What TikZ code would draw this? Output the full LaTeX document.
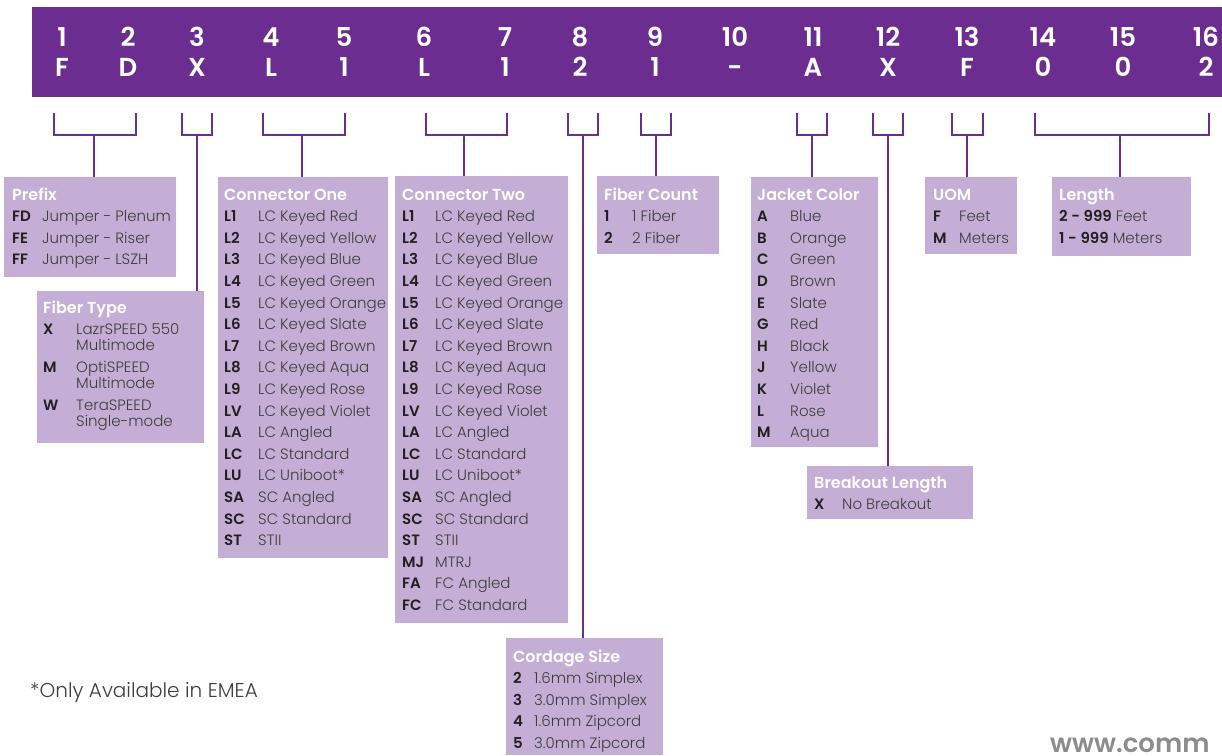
\documentclass[tikz,border=0pt]{standalone}
\usepackage{fontspec}
\setmainfont{Poppins}[UprightFont=* Light, BoldFont=* SemiBold]
\usepackage{array}
\usepackage{xcolor}

\definecolor{barpurple}{HTML}{6B2D90}
\definecolor{boxlav}{HTML}{C4AED5}
\definecolor{codecol}{HTML}{231F20}
\definecolor{desccol}{HTML}{3D3D3D}
\definecolor{webgray}{HTML}{8C8C8C}

% code / description table inside a box
\newenvironment{codetab}[1]{\begin{tabular}[t]{@{}>{\bfseries\color{codecol}}w{l}{#1}@{}>{\color{desccol}}l@{}}}{\end{tabular}}
\newcommand{\hd}[1]{\multicolumn{2}{@{}l@{}}{\color{white}\bfseries\fontsize{16}{21.6}\selectfont #1}}
\newcommand{\twoline}[2]{\parbox[t]{130pt}{\fontsize{15}{16}\selectfont #1\\#2\rule[-7pt]{0pt}{0pt}}}

\begin{document}
\begin{tikzpicture}[x=1pt, y=-1pt,
    box/.style={fill=boxlav, inner sep=0, anchor=north west},
    list/.style={anchor=base west, inner sep=0, font=\fontsize{15}{21.6}\selectfont},
    digit/.style={text=white, align=center, font=\fontsize{26}{30}\selectfont\bfseries},
    bracket/.style={draw=barpurple, line width=2.6pt}]
    \useasboundingbox (0,0) rectangle (1222,755);

    % part number bar
    \node (bar) [box, fill=barpurple, minimum width=1190, minimum height=90] at (32,7) {};
    \node (p1) [digit] at (62,52) {1\\F};
    \node (p2) [digit] at (128,52) {2\\D};
    \node (p3) [digit] at (197,52) {3\\X};
    \node (p4) [digit] at (271,52) {4\\L};
    \node (p5) [digit] at (344,52) {5\\1};
    \node (p6) [digit] at (424,52) {6\\L};
    \node (p7) [digit] at (505,52) {7\\1};
    \node (p8) [digit] at (580,52) {8\\2};
    \node (p9) [digit] at (655,52) {9\\1};
    \node (p10) [digit] at (735,52) {10\\-};
    \node (p11) [digit] at (813,52) {11\\A};
    \node (p12) [digit] at (888,52) {12\\X};
    \node (p13) [digit] at (967,52) {13\\F};
    \node (p14) [digit] at (1043,52) {14\\0};
    \node (p15) [digit] at (1123,52) {15\\0};
    \node (p16) [digit] at (1206,52) {16\\2};

    % boxes
    \node (prefix) [box, minimum width=172, minimum height=100] at (4,177) {};
    \node (fibertype) [box, minimum width=167, minimum height=152] at (37,291) {};
    \node (connone) [box, minimum width=170, minimum height=381] at (218,177) {};
    \node (conntwo) [box, minimum width=173, minimum height=447] at (395,176) {};
    \node (cordage) [box, minimum width=157, minimum height=117] at (506,638) {};
    \node (fibercount) [box, minimum width=122, minimum height=78] at (597,176) {};
    \node (jacket) [box, minimum width=127, minimum height=270] at (751,177) {};
    \node (breakout) [box, minimum width=166, minimum height=53] at (807,466) {};
    \node (uom) [box, minimum width=92, minimum height=77] at (925,177) {};
    \node (length) [box, minimum width=139, minimum height=79] at (1052,177) {};

    \node (prefixlist) [list] at ([xshift=8, yshift=-23]prefix.north west) {\begin{codetab}{30pt}
        \hd{Prefix}\\
        FD & Jumper - Plenum\\
        FE & Jumper - Riser\\
        FF & Jumper - LSZH
    \end{codetab}};
    \node (fibertypelist) [list] at ([xshift=6, yshift=-22]fibertype.north west) {\begin{codetab}{33pt}
        \hd{Fiber Type}\\
        X & \twoline{LazrSPEED 550}{Multimode}\\
        M & \twoline{OptiSPEED}{Multimode}\\
        W & \twoline{TeraSPEED}{Single-mode}
    \end{codetab}};
    \node (connonelist) [list] at ([xshift=6, yshift=-23]connone.north west) {\begin{codetab}{34pt}
        \hd{Connector One}\\
        L1 & LC Keyed Red\\
        L2 & LC Keyed Yellow\\
        L3 & LC Keyed Blue\\
        L4 & LC Keyed Green\\
        L5 & LC Keyed Orange\\
        L6 & LC Keyed Slate\\
        L7 & LC Keyed Brown\\
        L8 & LC Keyed Aqua\\
        L9 & LC Keyed Rose\\
        LV & LC Keyed Violet\\
        LA & LC Angled\\
        LC & LC Standard\\
        LU & LC Uniboot*\\
        SA & SC Angled\\
        SC & SC Standard\\
        ST & STII
    \end{codetab}};
    \node (conntwolist) [list] at ([xshift=7, yshift=-24]conntwo.north west) {\begin{codetab}{33pt}
        \hd{Connector Two}\\
        L1 & LC Keyed Red\\
        L2 & LC Keyed Yellow\\
        L3 & LC Keyed Blue\\
        L4 & LC Keyed Green\\
        L5 & LC Keyed Orange\\
        L6 & LC Keyed Slate\\
        L7 & LC Keyed Brown\\
        L8 & LC Keyed Aqua\\
        L9 & LC Keyed Rose\\
        LV & LC Keyed Violet\\
        LA & LC Angled\\
        LC & LC Standard\\
        LU & LC Uniboot*\\
        SA & SC Angled\\
        SC & SC Standard\\
        ST & STII\\
        MJ & MTRJ\\
        FA & FC Angled\\
        FC & FC Standard
    \end{codetab}};
    \node (cordagelist) [list] at ([xshift=7, yshift=-24]cordage.north west) {\begin{codetab}{21pt}
        \hd{Cordage Size}\\
        2 & 1.6mm Simplex\\
        3 & 3.0mm Simplex\\
        4 & 1.6mm Zipcord\\
        5 & 3.0mm Zipcord
    \end{codetab}};
    \node (fibercountlist) [list] at ([xshift=7, yshift=-24]fibercount.north west) {\begin{codetab}{28pt}
        \hd{Fiber Count}\\
        1 & 1 Fiber\\
        2 & 2 Fiber
    \end{codetab}};
    \node (jacketlist) [list] at ([xshift=6, yshift=-23]jacket.north west) {\begin{codetab}{33pt}
        \hd{Jacket Color}\\
        A & Blue\\
        B & Orange\\
        C & Green\\
        D & Brown\\
        E & Slate\\
        G & Red\\
        H & Black\\
        J & Yellow\\
        K & Violet\\
        L & Rose\\
        M & Aqua
    \end{codetab}};
    \node (breakoutlist) [list] at ([xshift=7, yshift=-22]breakout.north west) {\begin{codetab}{28pt}
        \hd{Breakout Length}\\
        X & No Breakout
    \end{codetab}};
    \node (uomlist) [list] at ([xshift=8, yshift=-23]uom.north west) {\begin{codetab}{26pt}
        \hd{UOM}\\
        F & Feet\\
        M & Meters
    \end{codetab}};
    \node (lengthlist) [list] at ([xshift=7, yshift=-23]length.north west) {\begin{tabular}[t]{@{}>{\color{desccol}}l@{}}
        {\color{white}\bfseries\fontsize{16}{21.6}\selectfont Length}\\
        \textbf{\color{codecol}2 - 999} Feet\\
        \textbf{\color{codecol}1 - 999} Meters
    \end{tabular}};

    % brackets under the bar
    \coordinate (b1) at (94,135);
    \coordinate (b3) at (197,135);
    \coordinate (b4) at (302,135);
    \coordinate (b6) at (464,135);
    \coordinate (b8) at (583,135);
    \coordinate (b9) at (656,135);
    \coordinate (b11) at (812,135);
    \coordinate (b12) at (888,135);
    \coordinate (b13) at (967,135);
    \coordinate (b14) at (1120,135);

    \draw[bracket] (54,113) |- (136,135) -- (136,113);
    \draw[bracket] (182,113) |- (212,135) -- (212,113);
    \draw[bracket] (263,113) |- (345,135) -- (345,113);
    \draw[bracket] (426,113) |- (507,135) -- (507,113);
    \draw[bracket] (568,113) |- (598,135) -- (598,113);
    \draw[bracket] (641,113) |- (671,135) -- (671,113);
    \draw[bracket] (797,113) |- (827,135) -- (827,113);
    \draw[bracket] (873,113) |- (903,135) -- (903,113);
    \draw[bracket] (952,113) |- (983,135) -- (983,113);
    \draw[bracket] (1035,113) |- (1209,135) -- (1209,113);

    \draw[bracket] (b1) -- (b1 |- prefix.north);
    \draw[bracket] (b3) -- (b3 |- fibertype.north);
    \draw[bracket] (b4) -- (b4 |- connone.north);
    \draw[bracket] (b6) -- (b6 |- conntwo.north);
    \draw[bracket] (b8) -- (b8 |- cordage.north);
    \draw[bracket] (b9) -- (b9 |- fibercount.north);
    \draw[bracket] (b11) -- (b11 |- jacket.north);
    \draw[bracket] (b12) -- (b12 |- breakout.north);
    \draw[bracket] (b13) -- (b13 |- uom.north);
    \draw[bracket] (b14) -- (b14 |- length.north);

    % notes
    \node (note) [anchor=west, inner sep=0, text=desccol, font=\fontsize{20}{24}\selectfont] at (30,693) {*Only Available in EMEA};
    \node (web) [anchor=base west, inner sep=0, text=webgray, font=\fontsize{26}{30}\selectfont\bfseries] at (1050,752) {www.comm};
\end{tikzpicture}
\end{document}
